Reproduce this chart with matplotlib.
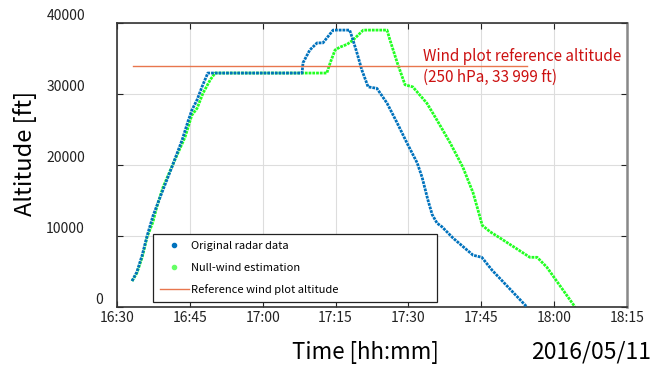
import matplotlib
matplotlib.use("Agg")
import matplotlib.pyplot as plt
from matplotlib.lines import Line2D
from matplotlib.ticker import FuncFormatter
from matplotlib.transforms import ScaledTranslation, blended_transform_factory

plt.rcParams['font.family'] = ['Noto Sans CJK JP', 'DejaVu Sans']

# time in minutes after 16:30, altitude in ft
radar_t = [3.1, 4.1, 5.2, 6.2, 7.4, 8.9, 11.3, 13.4, 14.6, 15.4, 16.5, 17.5, 18.7,
           38.1, 38.3, 39.7, 41.2, 42.4, 44.5, 47.9, 48.4, 49.4, 50.4, 51.7, 53.5,
           55.6, 57.7, 59.7, 61.8, 62.8, 64.0, 64.9, 65.9, 66.9, 69.2, 73.3, 75.1,
           77.2, 84.4]
radar_alt = [3660, 4930, 7320, 10000, 12800, 15500, 19700, 23500, 26100, 27700, 29200,
             31000, 32950, 32950, 34400, 36200, 37200, 37200, 39000, 39000, 38000,
             35800, 33400, 31000, 30800, 28700, 25900, 23100, 20300, 18300, 15100,
             13000, 11800, 11300, 9700, 7300, 7000, 5200, 0]

nowind_t = [3.1, 4.1, 5.2, 6.2, 7.4, 8.2, 9.5, 11.9, 14.0, 15.4, 16.5, 17.7, 19.2,
            20.2, 43.2, 43.9, 44.9, 45.9, 47.4, 48.6, 50.7, 55.6, 56.2, 57.7, 59.3,
            60.9, 63.8, 65.9, 68.6, 71.2, 73.3, 74.3, 75.2, 76.8, 78.9, 85.0, 86.5,
            88.5, 94.3]
nowind_alt = [3660, 4790, 7040, 9860, 11970, 14100, 16900, 20700, 23900, 27000, 28000,
              30100, 32000, 32950, 32950, 34400, 36200, 36600, 37000, 37600, 39000,
              39000, 37600, 34400, 31300, 31000, 28700, 26300, 23100, 19700, 16100,
              13700, 11500, 10600, 9700, 7000, 7000, 5600, 0]

ref_alt = 33999
ref_t = [3.3, 84.4]
x_ticks = [0, 15, 30, 45, 60, 75, 90, 105]
y_ticks = [0, 10000, 20000, 30000, 40000]
y_tick_labels = ['0', '10000', '20000', '30000', '40000']

fig = plt.figure(figsize=(6.52, 3.65), dpi=100)
ax = fig.add_axes([0.1794, 0.1589, 0.9617 - 0.1794, 0.937 - 0.1589])

blue = '#0072BD'
green = '#22FF22'
orange = '#E8764E'

ax.plot(radar_t, radar_alt, color=blue, lw=2.0, ls=(0, (1.0, 0.35)), zorder=3)
ax.plot(nowind_t, nowind_alt, color=green, lw=2.0, ls=(0, (1.0, 0.35)), zorder=2)
ax.plot(ref_t, [ref_alt, ref_alt], color=orange, lw=1.0, zorder=4)

ax.set_xlim(0, 105)
ax.set_ylim(0, 40000)
ax.set_xticks(x_ticks)
ax.set_yticks(y_ticks)
ax.xaxis.set_major_formatter(FuncFormatter(
    lambda v, p: f"{16 + int((30 + v) // 60)}:{int((30 + v) % 60):02d}"))
ax.grid(True, color='#DDDDDD', lw=0.8)
ax.set_axisbelow(True)
ax.tick_params(direction='in', length=4, top=True, right=True, labelsize=10,
               colors='#222222')
ax.tick_params(axis='y', labelleft=False)
ax.tick_params(axis='x', pad=3)
for s in ax.spines.values():
    s.set_color('#333333')
    s.set_linewidth(1.2)
ax.spines['right'].set_color('#888888')
ax.spines['right'].set_linewidth(1.8)

# y tick labels drawn as text (offset like the reference)
ytrans = blended_transform_factory(ax.transAxes, ax.transData)
for i, (v, s) in enumerate(zip(y_ticks, y_tick_labels)):
    dx = -14 if i == 0 else -32
    off = ScaledTranslation(dx / 100, 7 / 100, fig.dpi_scale_trans)
    ax.text(0, v, s, transform=ytrans + off, ha='right', va='center',
            fontsize=10, color='#222222', clip_on=False)

ax.text(0.6, 0.911, 'Wind plot reference altitude\n(250 hPa, 33 999 ft)',
        transform=ax.transAxes, color='#CC1111', fontsize=11, va='top', ha='left',
        linespacing=1.3)

fig.text(0.038, 0.58, 'Altitude [ft]', rotation=90, fontsize=17, ha='center', va='center')
fig.text(0.56, 0.035, 'Time [hh:mm]', fontsize=16, ha='center', va='center')
fig.text(0.998, 0.035, '2016/05/11', fontsize=16.5, ha='right', va='center')

handles = [Line2D([], [], ls='none', marker='o', ms=3, color=blue),
           Line2D([], [], ls='none', marker='o', ms=3, color='#66FF66'),
           Line2D([], [], color=orange, lw=1)]
leg = ax.legend(handles, ['Original radar data', 'Null-wind estimation',
                          'Reference wind plot altitude'],
                loc='lower left', bbox_to_anchor=(0.0706, 0.0176, 0.557, 0.24),
                mode='expand', fontsize=8.0,
                fancybox=False, framealpha=1, edgecolor='#222222',
                borderpad=0.6, labelspacing=1.05, handlelength=2.6,
                handletextpad=0.25, borderaxespad=0)
leg.get_frame().set_linewidth(0.9)
leg.set_zorder(10)

fig.savefig('out.png', dpi=100)
